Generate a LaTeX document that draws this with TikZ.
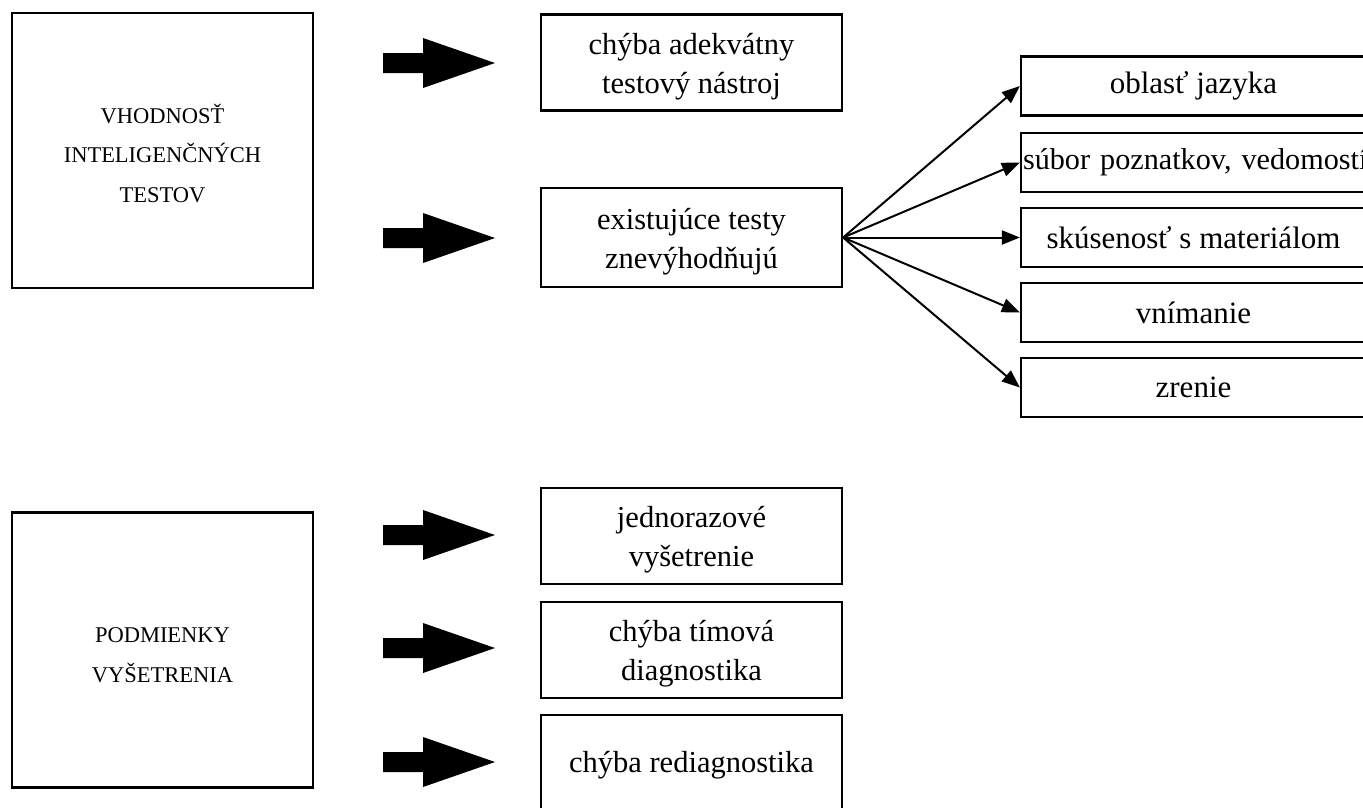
\documentclass[tikz,border=0pt]{standalone}
\usepackage{fontspec}
\setmainfont{Liberation Serif}
\usetikzlibrary{arrows.meta}
\begin{document}
\begin{tikzpicture}[x=1pt,y=-1pt,
 box/.style={draw, line width=2.2pt, rectangle, inner sep=0pt, align=center},
 bigbox/.style={box, minimum width=301pt, minimum height=275pt},
 bigtxt/.style={align=center, inner sep=0pt, font=\fontsize{22.5}{39.5}\selectfont},
 midbox/.style={box, minimum width=301pt, minimum height=96pt},
 midtxt/.style={align=center, inner sep=0pt, yshift=-4pt, font=\fontsize{30.5}{39}\selectfont},
 rbox/.style={box, minimum width=345pt, minimum height=59pt, font=\fontsize{31}{38}\selectfont},
 fan/.style={line width=2pt, -{Triangle[length=18pt,width=14pt]}},
 blockarrow/.pic={\fill (0,-10) -- (40,-10) -- (40,-25) -- (112,0) -- (40,25) -- (40,10) -- (0,10) -- cycle;}
]
\useasboundingbox (0,0) rectangle (1363,807);
\clip (0,0) rectangle (1363,807);

\node[bigbox, label={[bigtxt, yshift=-3pt]center:{VHODNOSŤ\\INTELIGENČNÝCH\\TESTOV}}] (vh) at (162.5,150.5) {};
\node[bigbox, label={[bigtxt, yshift=-5pt]center:{PODMIENKY\\VYŠETRENIA}}] (pod) at (162.5,650) {};

\node[midbox, label={[midtxt]center:{chýba adekvátny\\testový nástroj}}] (m1) at (691.5,62.5) {};
\node[midbox, minimum height=99pt, label={[midtxt]center:{existujúce testy\\znevýhodňujú}}] (m2) at (691.5,237.5) {};
\node[midbox, label={[midtxt]center:{jednorazové\\vyšetrenie}}] (m3) at (691.5,536) {};
\node[midbox, label={[midtxt]center:{chýba tímová\\diagnostika}}] (m4) at (691.5,650) {};
\node[midbox, label={[midtxt, yshift=2pt]center:{chýba rediagnostika}}] (m5) at (691.5,763) {};

\node[rbox] (r1) at (1193.5,86) {oblasť jazyka};
\node[rbox, text width=341pt, align=left, inner xsep=2pt, font=\fontsize{30.2}{38}\selectfont] (r2) at (1193.5,162.5) {\mbox{súbor poznatkov, vedomostí}};
\node[rbox] (r3) at (1193.5,237.5) {skúsenosť s materiálom};
\node[rbox] (r4) at (1193.5,312.5) {vnímanie};
\node[rbox] (r5) at (1193.5,387.5) {zrenie};

\foreach \r in {r1,r2,r3,r4,r5}{\draw[fan] (m2.east) -- (\r.west);}

\pic at (383,63) {blockarrow};
\pic at (383,238) {blockarrow};
\pic at (383,535) {blockarrow};
\pic at (383,648) {blockarrow};
\pic at (383,762) {blockarrow};
\end{tikzpicture}
\end{document}
